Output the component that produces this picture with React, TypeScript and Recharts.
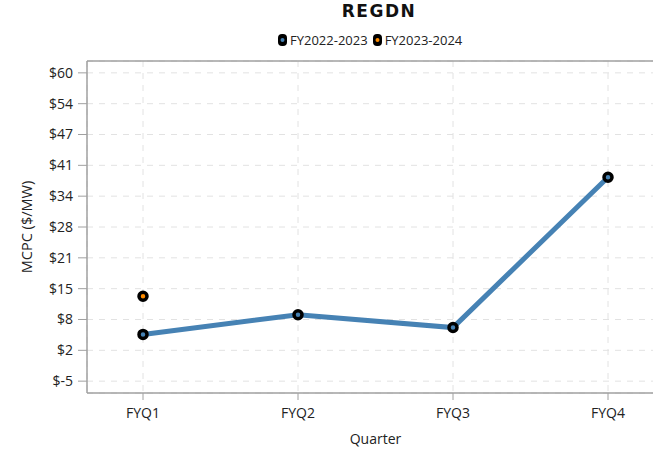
import { LineChart, Line, XAxis, YAxis, CartesianGrid, ReferenceLine, Label } from 'recharts'

// MCPC by fiscal quarter, two fiscal years
const quarters = ['FYQ1', 'FYQ2', 'FYQ3', 'FYQ4']
const fy2223 = [4.85, 9.0, 6.3, 38.0]
const fy2324: (number | null)[] = [12.9, null, null, null]
const yTicks = [-5, 1.5, 8, 14.5, 21, 27.5, 34, 40.5, 47, 53.5, 60]

const data = quarters.map((q, i) => ({
  quarter: q,
  fy2223: fy2223[i],
  fy2324: fy2324[i],
}))

const BLUE = '#4682b4'
const ORANGE = '#ff8c00'
const AXIS = '#a0a0a0'
const FONT = "'Open Sans', 'Noto Sans', sans-serif"

const legendItems = [
  { name: 'FY2022-2023', color: BLUE },
  { name: 'FY2023-2024', color: ORANGE },
]

function LegendIcon({ color }: { color: string }) {
  return (
    <svg width={9} height={12} style={{ marginRight: 3 }}>
      <rect x={0} y={0} width={9} height={12} rx={4} fill='#000' />
      <circle cx={4.5} cy={6} r={2} fill={color} />
    </svg>
  )
}

export default function App() {
  return (
    <div style={{ position: 'absolute', left: 0, top: 0, width: 653, height: 454, overflow: 'hidden', background: '#fff', fontFamily: FONT }}>
      <div style={{ position: 'absolute', left: 279, width: 200, top: 1, textAlign: 'center', fontFamily: "'DejaVu Sans', sans-serif", fontWeight: 'bold', fontSize: 17, letterSpacing: 1.5, color: '#111' }}>
        REGDN
      </div>
      <div style={{ position: 'absolute', left: 278, top: 31, display: 'flex', alignItems: 'center', fontSize: 13, color: '#222' }}>
        {legendItems.map((it) => (
          <span key={it.name} style={{ display: 'flex', alignItems: 'center', marginRight: 5 }}>
            <LegendIcon color={it.color} />
            {it.name}
          </span>
        ))}
      </div>
      <LineChart width={672} height={454} data={data} margin={{ top: 61, right: 8, bottom: 30, left: 0 }}>
        <CartesianGrid stroke='#e2e2e2' strokeDasharray='6 6' />
        <ReferenceLine y={62.5} stroke={AXIS} strokeWidth={1.5} />
        <XAxis
          dataKey='quarter'
          padding={{ left: 56, right: 56 }}
          stroke={AXIS}
          tickSize={7}
          tickMargin={8}
          height={31}
          tick={{ fill: '#222', fontSize: 14, fontFamily: FONT }}
          axisLine={{ stroke: AXIS, strokeWidth: 1.5 }}
        >
          <Label value='Quarter' position='bottom' offset={10} style={{ fill: '#222', fontSize: 14, fontFamily: FONT }} />
        </XAxis>
        <YAxis
          domain={[-7.5, 62.5]}
          ticks={yTicks}
          width={87}
          stroke={AXIS}
          tickSize={9}
          tickMargin={5}
          tick={{ fill: '#222', fontSize: 14, fontFamily: FONT }}
          axisLine={{ stroke: AXIS, strokeWidth: 1.5 }}
          tickFormatter={(v) => `$${Math.round(v)}`}
          interval={0}
        >
          <Label value='MCPC ($/MW)' angle={-90} position='insideLeft' offset={27} style={{ fill: '#222', fontSize: 14.5, fontFamily: FONT, textAnchor: 'middle' }} />
        </YAxis>
        <Line
          dataKey='fy2223'
          stroke={BLUE}
          strokeWidth={5}
          dot={{ r: 4, fill: BLUE, stroke: '#000', strokeWidth: 3.5 }}
          isAnimationActive={false}
        />
        <Line
          dataKey='fy2324'
          stroke='none'
          dot={{ r: 4, fill: ORANGE, stroke: '#000', strokeWidth: 3.5 }}
          isAnimationActive={false}
        />
      </LineChart>
    </div>
  )
}
